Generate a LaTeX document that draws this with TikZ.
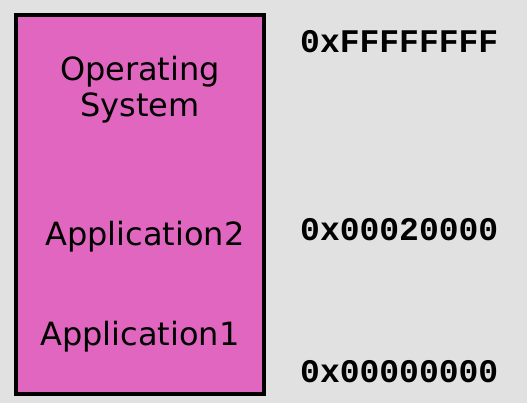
\documentclass[tikz,border=0pt]{standalone}
\usepackage{fontspec}
\setmainfont{DejaVu Sans}
\setmonofont{Liberation Mono}
\definecolor{bgGray}{HTML}{E1E1E1}
\definecolor{memPink}{HTML}{E066BF}
\begin{document}
\begin{tikzpicture}[x=1pt, y=-1pt,
    region/.style={font=\fontsize{32}{36}\selectfont, align=center, inner sep=0pt, text=black},
    addr/.style={font=\ttfamily\bfseries\fontsize{33}{33}\selectfont, anchor=west, inner sep=0pt, text=black}]

    % Background and memory block
    \fill[bgGray] (0,0) rectangle (527,403);
    \draw[line width=4pt, fill=memPink] (16,15) rectangle (264,394);

    % Regions inside memory
    \node[region] (os) at (140,90) {Operating\\System};
    \node[region] (app2) at (145,237) {Application2};
    \node[region] (app1) at (140,337) {Application1};

    % Addresses
    \node[addr] (top) at (300,42) {0xFFFFFFFF};
    \node[addr] (mid) at (300,230) {0x00020000};
    \node[addr] (bottom) at (300,372) {0x00000000};

\end{tikzpicture}
\end{document}
